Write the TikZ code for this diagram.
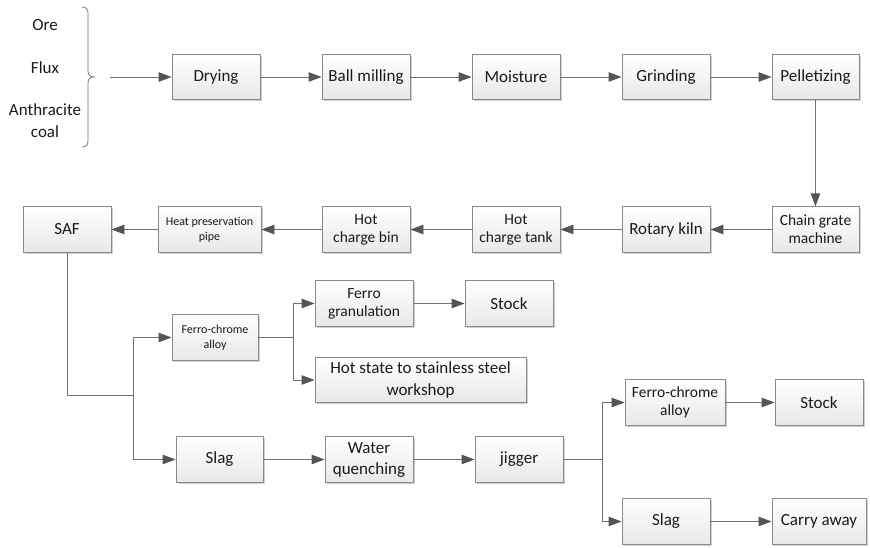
\documentclass[tikz,border=0pt]{standalone}
\usepackage{fontspec}
\setmainfont{Carlito}
\usetikzlibrary{arrows.meta,shadows}
\definecolor{boxline}{HTML}{8A8A8A}
\definecolor{conn}{HTML}{707070}
\definecolor{tipc}{HTML}{555555}
\definecolor{txt}{HTML}{1A1A1A}
\newcommand\FBig{\fontsize{17}{20.5}\selectfont}
\newcommand\FMid{\fontsize{15.5}{18}\selectfont}
\newcommand\FSml{\fontsize{12}{15}\selectfont}
\tikzset{
  pbox/.style={draw=boxline, line width=0.9pt, top color=white, bottom color=black!9,
    minimum width=88pt, minimum height=45.5pt, inner sep=1pt, align=center,
    text=txt, font=\FBig,
    drop shadow={shadow xshift=1.5pt, shadow yshift=-1.5pt, opacity=0.18, fill=black}},
  lbl/.style={text=txt, font=\FBig, inner sep=0pt},
  conline/.style={draw=conn, line width=0.9pt},
  arr/.style={conline, -{Triangle[length=13pt,width=9.5pt,fill=tipc,color=tipc]}},
}
\begin{document}
\begin{tikzpicture}[x=1pt,y=-1pt]
\useasboundingbox (0,0) rectangle (870,547);
% inputs
\node[lbl] (ore) at (45,25) {Ore};
\node[lbl] (flux) at (45,68) {Flux};
\node[lbl,align=center,font=\fontsize{17}{22}\selectfont] (anth) at (45,121) {Anthracite\\coal};
\draw[draw=black!55, line width=0.8pt] (82,7) .. controls (86,7) and (88,9) .. (88,13) -- (88,71)
  .. controls (88,75) and (90,77) .. (94,77) .. controls (90,77) and (88,79) .. (88,83)
  -- (88,141) .. controls (88,145) and (86,147) .. (82,147);
\coordinate (in) at (110,77);
% row 1
\node[pbox] (dry) at (216,77) {Drying};
\node[pbox] (ball) at (366,77) {Ball milling};
\node[pbox] (moist) at (516,77) {Moisture};
\node[pbox] (grind) at (666,77) {Grinding};
\node[pbox,minimum width=87pt] (pel) at (815.5,77) {Pelletizing};
% row 2
\node[pbox,minimum width=87pt,font=\FMid] (chain) at (815.5,229.5) {Chain grate\\machine};
\node[pbox] (rot) at (666,229.5) {Rotary kiln};
\node[pbox,font=\FMid] (tank) at (516,229.5) {Hot\\charge tank};
\node[pbox,font=\FMid] (bin) at (366,229.5) {Hot\\charge bin};
\node[pbox,minimum width=103pt,font=\FSml] (pipe) at (209.5,229.5) {Heat preservation\\pipe};
\node[pbox] (saf) at (67,229.5) {SAF};
% branches
\node[pbox,minimum width=86pt,font=\FSml] (fca1) at (215,337.5) {Ferro-chrome\\alloy};
\node[pbox,minimum width=98pt,font=\FMid] (fgran) at (364,303.5) {Ferro\\granulation};
\node[pbox] (stock1) at (509,303.5) {Stock};
\node[pbox,minimum width=211pt,font=\fontsize{17}{22}\selectfont] (hot) at (420.5,380) {Hot state to stainless steel\\workshop};
\node[pbox,minimum width=87pt] (slag1) at (219.5,459.5) {Slag};
\node[pbox,font=\fontsize{17}{21}\selectfont] (wq) at (369,459.5) {Water\\quenching};
\node[pbox] (jig) at (519,459.5) {jigger};
\node[pbox,minimum width=100pt,font=\FMid] (fca2) at (675,402.5) {Ferro-chrome\\alloy};
\node[pbox] (stock2) at (819,402.5) {Stock};
\node[pbox] (slag2) at (666,521.5) {Slag};
\node[pbox,minimum width=94pt] (carry) at (819,521.5) {Carry away};
% connectors
\draw[arr] (in) -- (dry.west);
\draw[arr] (dry) -- (ball);
\draw[arr] (ball) -- (moist);
\draw[arr] (moist) -- (grind);
\draw[arr] (grind) -- (pel);
\draw[arr] (pel) -- (chain);
\draw[arr] (chain) -- (rot);
\draw[arr] (rot) -- (tank);
\draw[arr] (tank) -- (bin);
\draw[arr] (bin) -- (pipe);
\draw[arr] (pipe) -- (saf);
\coordinate (j1) at (133,395);
\draw[conline] (saf.south) |- (j1);
\draw[arr] (j1) |- (fca1.west);
\draw[arr] (j1) |- (slag1.west);
\coordinate (j2) at (293,337.5);
\draw[conline] (fca1.east) -- (j2);
\draw[arr] (j2) |- (fgran.west);
\draw[arr] (j2) |- (hot.west);
\draw[arr] (fgran) -- (stock1);
\draw[arr] (slag1) -- (wq);
\draw[arr] (wq) -- (jig);
\coordinate (j3) at (602,459.5);
\draw[conline] (jig.east) -- (j3);
\draw[arr] (j3) |- (fca2.west);
\draw[arr] (j3) |- (slag2.west);
\draw[arr] (fca2) -- (stock2);
\draw[arr] (slag2) -- (carry);
\end{tikzpicture}
\end{document}
